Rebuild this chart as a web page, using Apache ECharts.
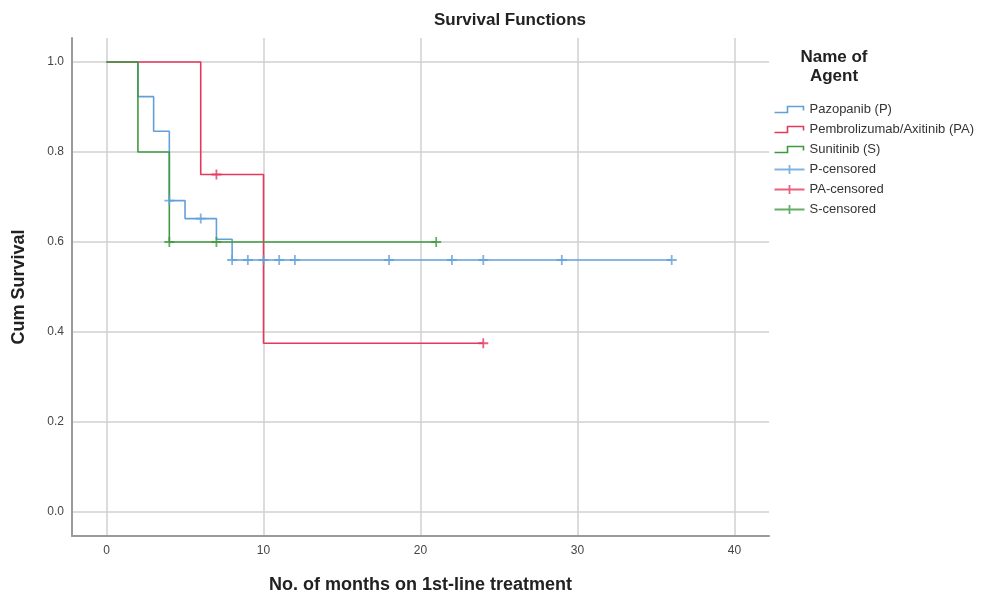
<!DOCTYPE html>
<html lang="en" style="height: 100%">
<head>
  <meta charset="utf-8">
</head>
<body style="height: 100%; margin: 0; background: #fff">
  <div id="container" style="width: 997px; height: 602px"></div>

  <script type="text/javascript" src="https://fastly.jsdelivr.net/npm/echarts@6/dist/echarts.min.js"></script>
  <script type="text/javascript">
    // Kaplan-Meier steps (months, cumulative survival)
    var pTime = [0, 2, 3, 4, 5, 7, 8, 36];
    var pSurv = [1.0, 0.923, 0.846, 0.692, 0.652, 0.606, 0.560, 0.560];
    var paTime = [0, 6, 10, 24];
    var paSurv = [1.0, 0.75, 0.375, 0.375];
    var sTime = [0, 2, 4, 21];
    var sSurv = [1.0, 0.8, 0.6, 0.6];

    // censored observations
    var pCensTime = [4, 6, 8, 9, 10, 11, 12, 18, 22, 24, 29, 36];
    var pCensSurv = [0.692, 0.652, 0.560, 0.560, 0.560, 0.560, 0.560, 0.560, 0.560, 0.560, 0.560, 0.560];
    var paCensTime = [7, 24];
    var paCensSurv = [0.75, 0.375];
    var sCensTime = [4, 7, 21];
    var sCensSurv = [0.6, 0.6, 0.6];

    var xTicks = [0, 10, 20, 30, 40];
    var yTicks = [0, 0.2, 0.4, 0.6, 0.8, 1.0];

    var stepNames = ['Pazopanib (P)', 'Pembrolizumab/Axitinib (PA)', 'Sunitinib (S)'];
    var censNames = ['P-censored', 'PA-censored', 'S-censored'];
    var colors = ['#62a0dc', '#e5385c', '#3f9a3f'];

    var font = "'Liberation Sans', Arial, sans-serif";

    function zip(xs, ys) {
      return xs.map(function (x, i) { return [x, ys[i]]; });
    }

    var stepIcon = 'path://M0,0 M30,14 M0,10 L13,10 L13,4 L29,4 L29,8';
    var plusIcon = 'path://M0,0 M30,14 M0,7 L30,7 M15,2.5 L15,11.5';
    var plusSymbol = 'path://M0,5 L10,5 M5,0 L5,10';

    var steps = [zip(pTime, pSurv), zip(paTime, paSurv), zip(sTime, sSurv)];
    var cens = [zip(pCensTime, pCensSurv), zip(paCensTime, paCensSurv), zip(sCensTime, sCensSurv)];

    var series = [];
    stepNames.forEach(function (name, i) {
      series.push({
        name: name,
        type: 'line',
        step: 'end',
        showSymbol: false,
        data: steps[i],
        lineStyle: { color: colors[i], width: 1.6 },
        itemStyle: { color: colors[i] },
        z: 3
      });
    });
    censNames.forEach(function (name, i) {
      series.push({
        name: name,
        type: 'scatter',
        symbol: plusSymbol,
        symbolSize: 10,
        data: cens[i],
        itemStyle: { color: 'none', borderColor: colors[i], borderWidth: 1.8 },
        z: 4
      });
    });

    var legendData = stepNames.map(function (name, i) {
      return { name: name, icon: stepIcon,
        itemStyle: { color: 'none', borderColor: colors[i], borderWidth: 1.6 } };
    }).concat(censNames.map(function (name, i) {
      return { name: name, icon: plusIcon,
        itemStyle: { color: 'none', borderColor: colors[i], borderWidth: 1.8 } };
    }));

    var dom = document.getElementById('container');
    var myChart = echarts.init(dom, null, { renderer: 'canvas' });

    var option = {
      animation: false,
      textStyle: { fontFamily: font },
      title: [
        {
          text: 'Survival Functions',
          left: 510, top: 12, textAlign: 'center', padding: 0,
          textStyle: { fontSize: 17, fontWeight: 'bold', color: '#222', fontFamily: font }
        },
        {
          text: 'Name of\nAgent',
          left: 834, top: 48, textAlign: 'center', padding: 0,
          textStyle: { fontSize: 17, fontWeight: 'bold', color: '#222', lineHeight: 19, fontFamily: font }
        }
      ],
      legend: {
        orient: 'vertical',
        left: 772, top: 100, padding: 0,
        itemWidth: 30, itemHeight: 14, itemGap: 1, itemTextGap: 8,
        selectedMode: false,
        textStyle: { fontSize: 13, color: '#333', fontFamily: font },
        data: legendData
      },
      grid: { left: 72, right: 228, top: 38, bottom: 66, containLabel: false },
      xAxis: {
        type: 'value',
        min: -2.2, max: 42.2,
        name: 'No. of months on 1st-line treatment',
        nameLocation: 'middle', nameGap: 40,
        nameTextStyle: { fontSize: 18, fontWeight: 'bold', color: '#222', fontFamily: font },
        axisLine: { show: true, onZero: false, lineStyle: { color: '#9a9a9a', width: 2 } },
        axisTick: { show: false, customValues: xTicks },
        axisLabel: { customValues: xTicks, margin: 9, fontSize: 12, color: '#444' },
        splitLine: { show: true, lineStyle: { color: '#d0d0d0', width: 1.5 } }
      },
      yAxis: {
        type: 'value',
        min: -0.0534, max: 1.0534,
        name: 'Cum Survival',
        nameLocation: 'middle', nameGap: 44,
        nameTextStyle: { fontSize: 18, fontWeight: 'bold', color: '#222', fontFamily: font },
        axisLine: { show: true, onZero: false, lineStyle: { color: '#9a9a9a', width: 2 } },
        axisTick: { show: false, customValues: yTicks },
        axisLabel: {
          customValues: yTicks, margin: 8, fontSize: 12, color: '#444',
          formatter: function (v) { return v.toFixed(1); }
        },
        splitLine: { show: true, lineStyle: { color: '#d0d0d0', width: 1.5 } }
      },
      series: series
    };

    myChart.setOption(option);
    window.addEventListener('resize', myChart.resize);
  </script>
</body>
</html>
